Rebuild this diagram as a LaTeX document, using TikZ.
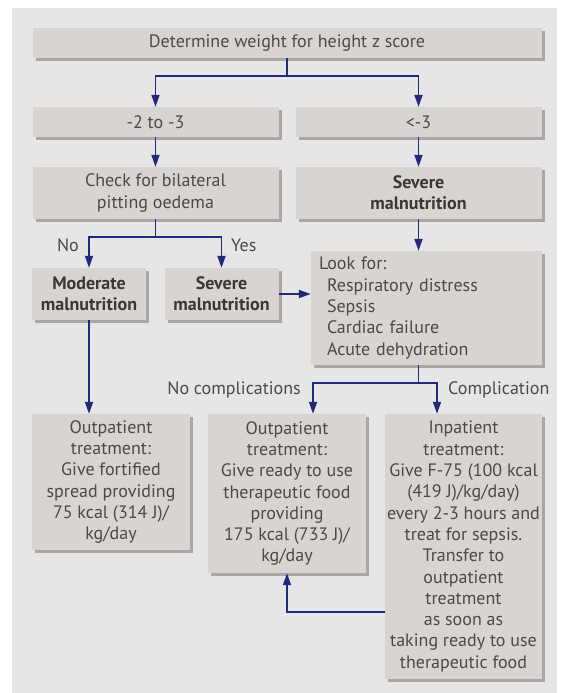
\documentclass[tikz,border=0pt]{standalone}
\usepackage{fontspec}
\setmainfont{PT Sans}
\usetikzlibrary{arrows.meta,shadows,calc}
\definecolor{panelgrey}{HTML}{E6E6E6}
\definecolor{boxgrey}{HTML}{D8D4D1}
\definecolor{shadowgrey}{HTML}{A9A6A4}
\definecolor{arrowblue}{HTML}{23297A}
\definecolor{textgrey}{HTML}{4A4A4A}
\definecolor{boldgrey}{HTML}{383838}
\tikzset{
  flowbox/.style={rectangle, fill=boxgrey, inner sep=0pt, align=center,
    text=textgrey, font=\fontsize{18}{21.3}\selectfont,
    drop shadow={shadow xshift=3pt, shadow yshift=-3pt, fill=shadowgrey, opacity=1}},
  boldtext/.style={font=\fontsize{18}{21.3}\selectfont\bfseries, text=boldgrey},
  conn/.style={draw=arrowblue, line width=1.8pt, -{Triangle[width=8pt,length=12pt]}},
  plainconn/.style={draw=arrowblue, line width=1.8pt},
  lbl/.style={text=textgrey, font=\fontsize{18}{21}\selectfont, inner sep=0pt}
}
\begin{document}
\begin{tikzpicture}[x=1pt,y=-1pt]
\useasboundingbox (0,0) rectangle (562,693);
\fill[white] (0,0) rectangle (562,693);
\fill[panelgrey] (12,8) rectangle (557,693);

\node[flowbox, minimum width=509pt, minimum height=30pt] (top) at (287,43) {Determine weight for height z score};
\node[flowbox, minimum width=246pt, minimum height=30pt] (r1l) at (155.5,122) {-2 to -3};
\node[flowbox, minimum width=246pt, minimum height=30pt] (r1r) at (418.5,122) {<-3};
\node[flowbox, minimum width=246pt, minimum height=52pt] (check) at (155.5,193) {Check for bilateral\\pitting oedema};
\node[flowbox, boldtext, minimum width=246pt, minimum height=52pt] (sev1) at (418.5,193) {Severe\\malnutrition};
\node[flowbox, boldtext, minimum width=114pt, minimum height=52pt] (mod) at (89,294) {Moderate\\malnutrition};
\node[flowbox, boldtext, minimum width=114pt, minimum height=52pt] (sev2) at (221.5,294) {Severe\\malnutrition};
\node[flowbox, align=left, minimum width=231pt, minimum height=114pt, text width=215pt] (look) at (426.5,308)
  {Look for:\\\hspace*{8pt}Respiratory distress\\\hspace*{8pt}Sepsis\\\hspace*{8pt}Cardiac failure\\\hspace*{8pt}Acute dehydration};
\node[flowbox, minimum width=158pt, minimum height=136pt] (out1) at (111,482)
  {Outpatient\\treatment:\\Give fortified\\spread providing\\75 kcal (314 J)/\\kg/day};
\node[flowbox, minimum width=158pt, minimum height=159pt] (out2) at (287,493.5)
  {Outpatient\\treatment:\\Give ready to use\\therapeutic food\\providing\\175 kcal (733 J)/\\kg/day};
\node[flowbox, minimum width=157pt, minimum height=265pt] (inp) at (463.5,546.5)
  {Inpatient\\treatment:\\Give F-75 (100 kcal\\(419 J)/kg/day)\\every 2-3 hours and\\treat for sepsis.\\Transfer to\\outpatient\\treatment\\as soon as\\taking ready to use\\therapeutic food};

% connectors
\coordinate (j1) at (287,76);
\draw[plainconn] (top.south) -- (j1);
\draw[conn] (j1) -| (r1l.north);
\draw[conn] (j1) -| (r1r.north);
\draw[conn] (r1l.south) -- (check.north);
\draw[conn] (r1r.south) -- (sev1.north);
\coordinate (j2) at (155.5,237);
\draw[plainconn] (check.south) -- (j2);
\draw[conn] (j2) -| (mod.north);
\draw[conn] (j2) -| (sev2.north);
\draw[conn] (sev1.south) -- (sev1.south |- look.north);
\draw[conn] (sev2.east) -- (sev2.east -| look.west);
\coordinate (j3) at (418.5,383);
\draw[plainconn] (j3 |- look.south) -- (j3);
\draw[conn] (j3) -| ([xshift=26pt]out2.north);
\draw[conn] (j3) -| ([xshift=-26.5pt]inp.north);
\draw[conn] (mod.south) -- (mod.south |- out1.north);
\draw[conn] ([yshift=-65.5pt]inp.west) -| (out2.south);

% labels
\node[lbl, anchor=east] (lno) at (79,245) {No};
\node[lbl, anchor=west] (lyes) at (231,245) {Yes};
\node[lbl, anchor=east] (lnoc) at (301,390) {No complications};
\node[lbl, anchor=west] (lc) at (448,390) {Complication};
\end{tikzpicture}
\end{document}
